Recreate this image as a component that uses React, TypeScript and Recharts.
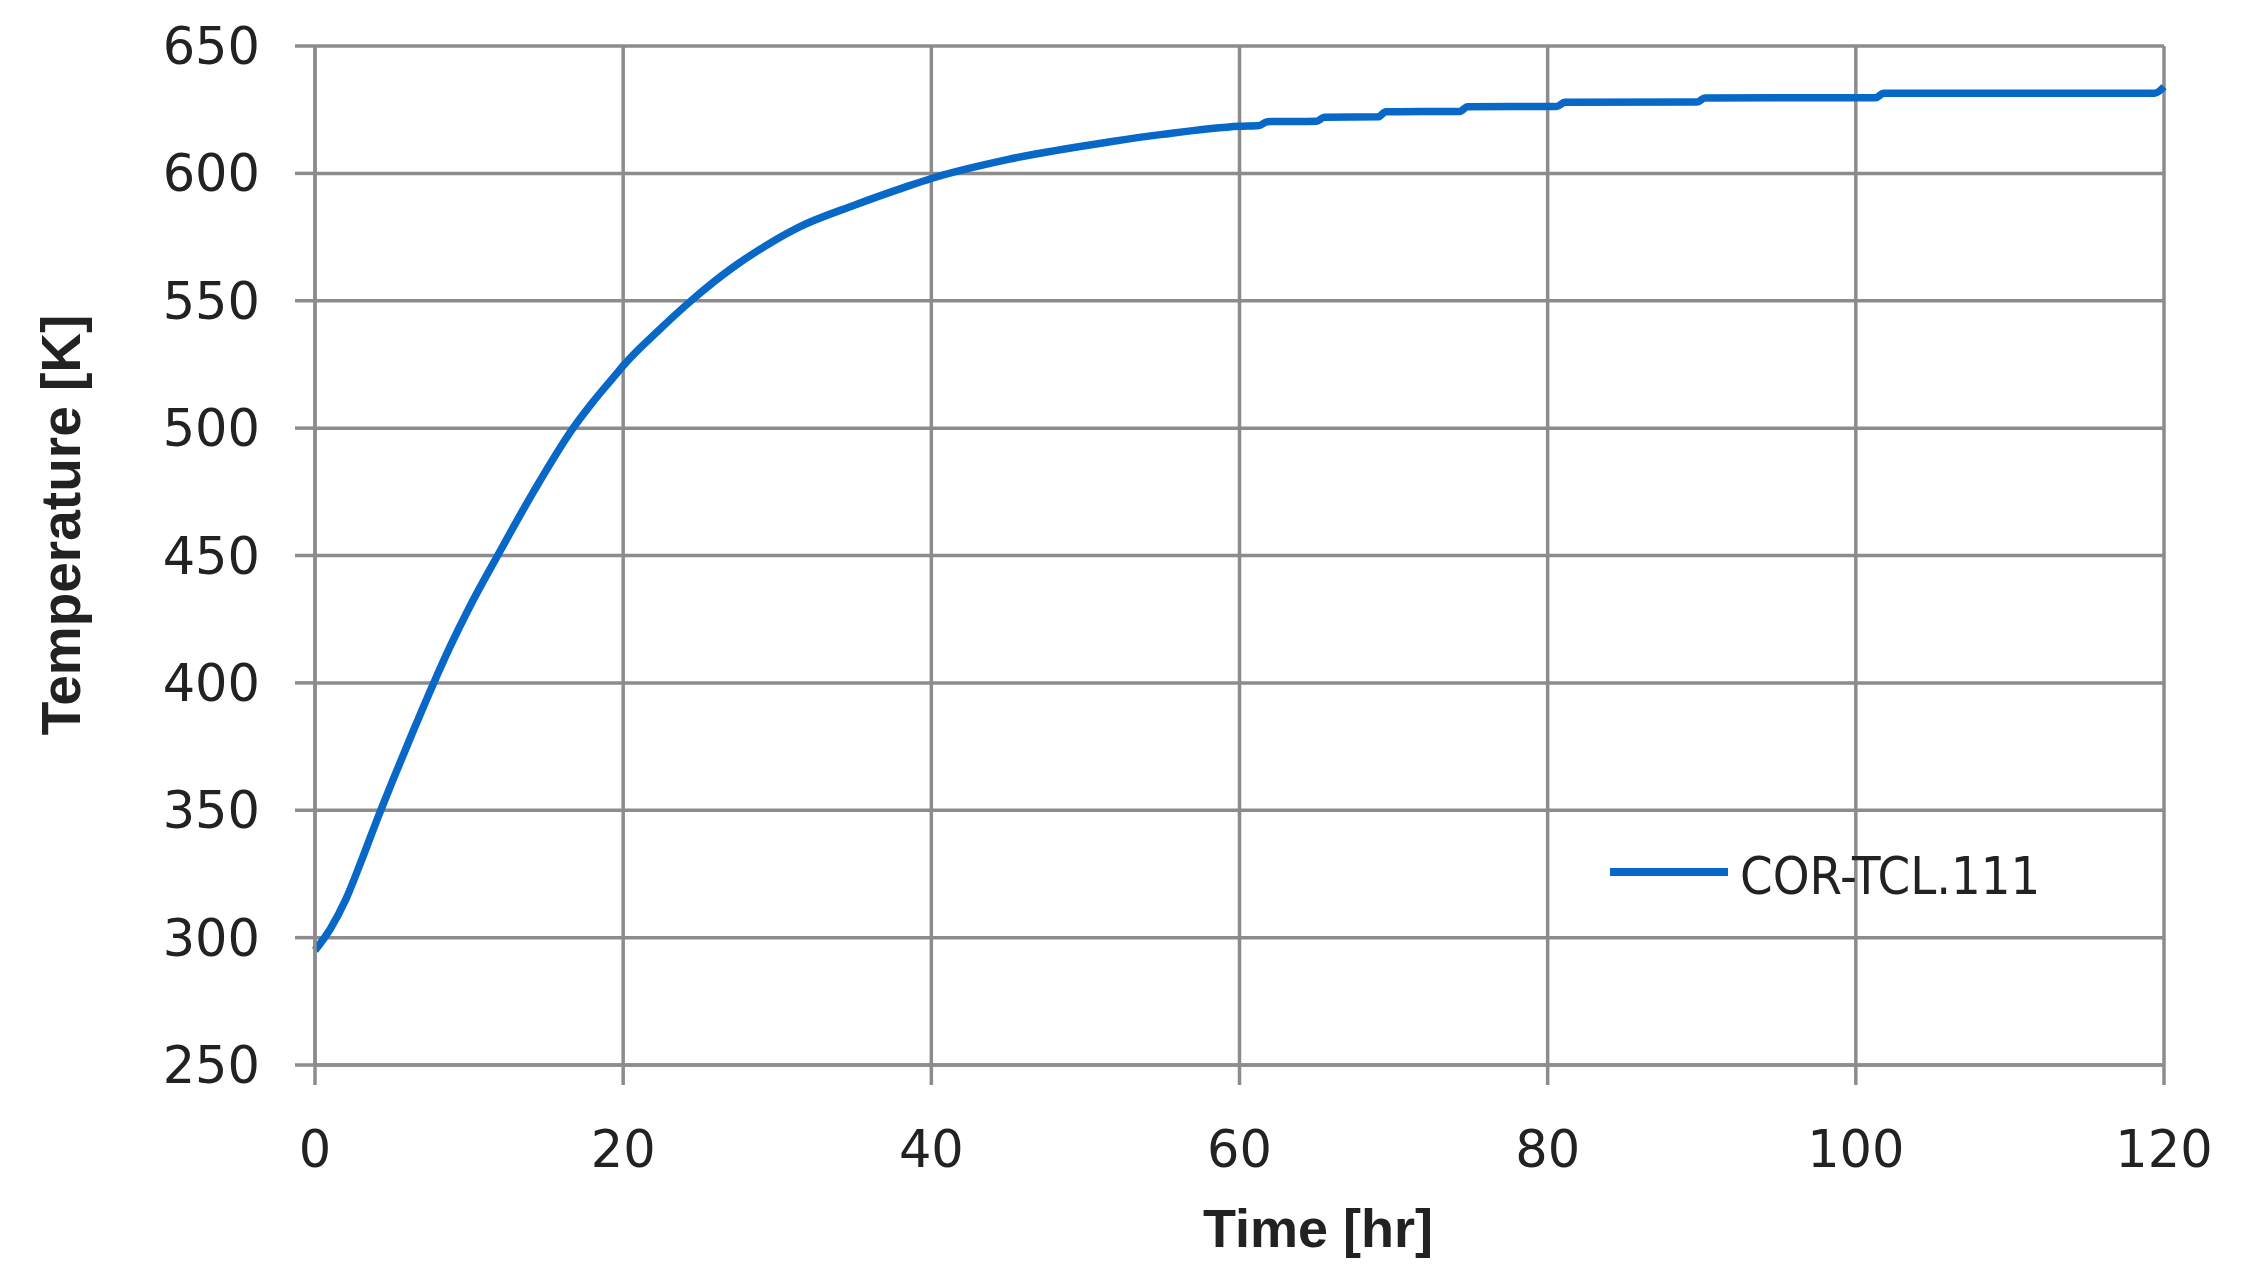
import { LineChart, Line, XAxis, YAxis, CartesianGrid, Legend, Label } from "recharts"

const timeHr = [
  0, 1, 2, 3, 4.2, 5.1, 6.4, 7.67, 8.75, 10.05, 11.9, 14.15, 16.75, 18, 19.45, 20, 22.5, 24.5, 27.1, 29.5,
  31.45, 35, 38.3, 40, 45, 51.5, 55, 60, 61.3, 61.8, 65, 65.5, 69, 69.5, 74.3, 74.8, 80.6, 81.1,
  89.7, 90.2, 101.3, 101.8, 119.4, 120,
]
const tempK = [
  295, 303.5, 315, 330, 349, 362.5, 381.5, 399.5, 414, 430, 450.5, 474.7, 500, 510, 520.5, 524.5, 539.5, 550.5, 563,
  572.5, 579, 587.5, 594.6, 598, 605.5, 612.3, 615.3, 618.5, 618.8, 620.3, 620.5, 622, 622.2, 624.2, 624.3,
  626.2, 626.3, 627.9, 628, 629.6, 629.7, 631.5, 631.5, 634,
]
const xTicks = [0, 20, 40, 60, 80, 100, 120]
const yTicks = [250, 300, 350, 400, 450, 500, 550, 600, 650]
const seriesName = "COR-TCL.111"

const data = timeHr.map((t, i) => ({ t, temp: tempK[i] }))

const BLUE = "#0868c8"
const GRID = "#8c8c8c"
const TEXT = "#222"

const tickFont = { fontFamily: "DejaVu Sans", fontSize: 51, fill: TEXT }

const renderLegend = () => (
  <div style={{ display: "flex", alignItems: "center", height: 60 }}>
    <svg width={118} height={10}>
      <line x1={0} y1={5} x2={118} y2={5} stroke={BLUE} strokeWidth={8} />
    </svg>
    <span
      style={{
        marginLeft: 12,
        fontFamily: '"DejaVu Sans Condensed", "DejaVu Sans"',
        fontSize: 52,
        color: TEXT,
        position: "relative",
        top: 4,
        whiteSpace: "nowrap",
      }}
    >
      {seriesName}
    </span>
  </div>
)

export default function App() {
  return (
    <LineChart width={2249} height={1280} data={data} margin={{ top: 38, right: 93, bottom: 0, left: 0 }}>
      <CartesianGrid stroke={GRID} strokeWidth={3.5} />
      <XAxis
        dataKey="t"
        type="number"
        domain={[0, 120]}
        ticks={xTicks}
        interval={0}
        height={223}
        tickSize={20}
        tickMargin={46}
        tick={tickFont}
        axisLine={{ stroke: GRID, strokeWidth: 3.5 }}
        tickLine={{ stroke: GRID, strokeWidth: 3.5 }}
      >
        <Label
          content={() => (
            <text x={1310} y={1239} textAnchor="middle" fontFamily="Liberation Sans" fontWeight="bold" fontSize={54} fill={TEXT}>
              Time [hr]
            </text>
          )}
        />
      </XAxis>
      <YAxis
        type="number"
        domain={[250, 650]}
        ticks={yTicks}
        interval={0}
        width={307}
        tickSize={20}
        tickMargin={35}
        tick={tickFont}
        axisLine={{ stroke: GRID, strokeWidth: 3.5 }}
        tickLine={{ stroke: GRID, strokeWidth: 3.5 }}
      >
        <Label
          content={() => (
            <text
              x={72}
              y={517}
              transform="rotate(-90, 72, 517)"
              textAnchor="middle"
              fontFamily="Liberation Sans"
              fontWeight="bold"
              fontSize={55}
              fill={TEXT}
            >
              Temperature [K]
            </text>
          )}
        />
      </YAxis>
      <Legend
        layout="horizontal"
        verticalAlign="middle"
        align="center"
        content={renderLegend}
        wrapperStyle={{ left: 1602, top: 834, right: "auto", bottom: "auto", width: "auto" }}
      />
      <Line
        type="monotone"
        dataKey="temp"
        name={seriesName}
        stroke={BLUE}
        strokeWidth={7.5}
        dot={false}
        isAnimationActive={false}
      />
    </LineChart>
  )
}
